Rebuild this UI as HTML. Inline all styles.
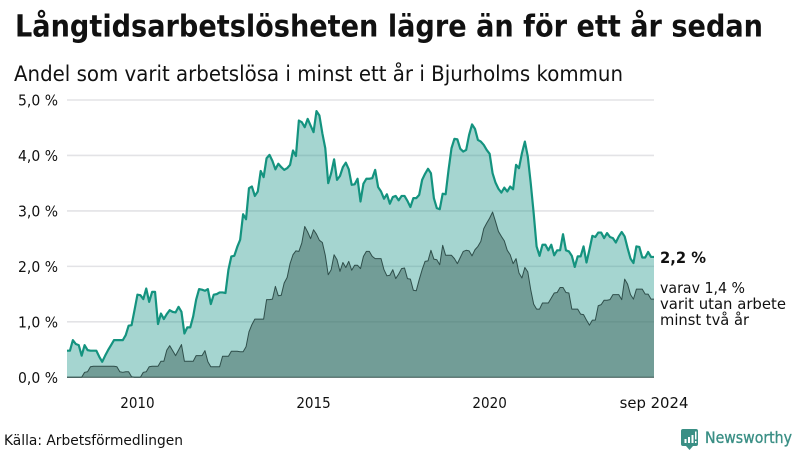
<!DOCTYPE html>
<html lang="sv">
<head>
<meta charset="utf-8">
<title>Långtidsarbetslösheten lägre än för ett år sedan</title>
<style>
html,body{margin:0;padding:0;background:#fff;width:800px;height:450px;overflow:hidden}
svg{display:block}
text{font-family:"DejaVu Sans","Liberation Sans",sans-serif;fill:#111}
</style>
</head>
<body>
<svg id="chart" width="800" height="450" viewBox="0 0 800 450" xmlns="http://www.w3.org/2000/svg">
  <text x="15" y="36.5" font-size="30" font-weight="700" textLength="748" lengthAdjust="spacingAndGlyphs">Långtidsarbetslösheten lägre än för ett år sedan</text>
  <text x="14" y="81" font-size="21" textLength="609" lengthAdjust="spacingAndGlyphs">Andel som varit arbetslösa i minst ett år i Bjurholms kommun</text>
  <g id="grid"></g>
  <g id="yticks"></g>
  <g id="xticks"></g>
  <path id="areaTotal" fill="#189386" fill-opacity="0.39" stroke="none"></path>
  <path id="areaTwoYear" fill="#3f655e" fill-opacity="0.5" stroke="none"></path>
  <line id="baseline" stroke="#34514d" stroke-width="1"></line>
  <path id="lineTotal" fill="none" stroke="#14937f" stroke-width="2.2" stroke-linejoin="round"></path>
  <path id="lineTwoYear" fill="none" stroke="#2f4f4b" stroke-width="1" stroke-linejoin="round"></path>
  <text x="660" y="263" font-size="16" font-weight="700" textLength="46" lengthAdjust="spacingAndGlyphs">2,2 %</text>
  <text x="660" y="293" font-size="15" textLength="85" lengthAdjust="spacingAndGlyphs">varav 1,4 %</text>
  <text x="660" y="309" font-size="15" textLength="126" lengthAdjust="spacingAndGlyphs">varit utan arbete</text>
  <text x="660" y="325" font-size="15" textLength="89" lengthAdjust="spacingAndGlyphs">minst två år</text>
  <text x="4" y="445" font-size="14.5" textLength="179" lengthAdjust="spacingAndGlyphs">Källa: Arbetsförmedlingen</text>
  <g>
    <path fill="#3a8f85" d="M683 429h13a2 2 0 0 1 2 2v13a2 2 0 0 1-2 2h-3l-3.500 4l-3.500-4h-3a2 2 0 0 1-2-2v-13a2 2 0 0 1 2-2z"></path>
    <path fill="#fff" d="M684.500 439h2v4h-2zM688 437h2v6h-2zM691.500 435h2v8h-2zM695 431.500h1.500v8h-1.500zM695 441h1.500v2h-1.500z"></path>
    <text x="705" y="443" font-size="16" textLength="87" lengthAdjust="spacingAndGlyphs" stroke="#3a8f85" stroke-width="0.35" style="fill:#3a8f85">Newsworthy</text>
  </g>
</svg>
<script>
const totalValues = [0.48,0.48,0.67,0.6,0.58,0.39,0.58,0.49,0.48,0.48,0.48,0.37,0.28,0.39,0.49,0.58,0.67,0.67,0.67,0.67,0.76,0.93,0.94,1.21,1.49,1.48,1.41,1.6,1.36,1.54,1.54,0.96,1.15,1.05,1.14,1.21,1.18,1.17,1.27,1.18,0.79,0.9,0.9,1.1,1.4,1.59,1.58,1.56,1.59,1.32,1.49,1.5,1.53,1.53,1.52,1.94,2.18,2.19,2.35,2.48,2.94,2.85,3.41,3.44,3.27,3.35,3.72,3.61,3.95,4.01,3.9,3.75,3.85,3.79,3.74,3.77,3.83,4.09,3.99,4.63,4.6,4.51,4.66,4.54,4.42,4.8,4.72,4.4,4.13,3.5,3.68,3.93,3.56,3.63,3.79,3.87,3.75,3.47,3.48,3.58,3.17,3.49,3.58,3.58,3.59,3.74,3.43,3.35,3.22,3.3,3.13,3.25,3.27,3.19,3.27,3.27,3.18,3.07,3.23,3.23,3.29,3.56,3.67,3.76,3.68,3.23,3.05,3.03,3.31,3.3,3.74,4.13,4.3,4.29,4.12,4.07,4.1,4.37,4.56,4.48,4.28,4.25,4.19,4.1,4.03,3.68,3.51,3.4,3.33,3.42,3.35,3.44,3.39,3.83,3.77,4.04,4.25,3.98,3.5,2.96,2.36,2.19,2.39,2.39,2.29,2.39,2.2,2.29,2.29,2.58,2.29,2.27,2.19,1.99,2.18,2.18,2.36,2.07,2.3,2.55,2.53,2.61,2.61,2.51,2.6,2.53,2.51,2.43,2.54,2.62,2.54,2.33,2.14,2.06,2.36,2.35,2.16,2.16,2.26,2.17,2.17];
const twoYearValues = [0,0,0,0,0,0,0.09,0.1,0.19,0.2,0.2,0.2,0.2,0.2,0.2,0.2,0.2,0.19,0.1,0.09,0.1,0.1,0.01,0,0,0,0.09,0.1,0.19,0.2,0.2,0.2,0.29,0.29,0.49,0.57,0.48,0.39,0.49,0.59,0.29,0.29,0.29,0.29,0.39,0.39,0.39,0.48,0.28,0.19,0.19,0.19,0.19,0.38,0.38,0.38,0.47,0.47,0.47,0.46,0.46,0.55,0.82,0.95,1.05,1.05,1.05,1.05,1.4,1.4,1.41,1.64,1.47,1.48,1.7,1.8,2.05,2.21,2.28,2.27,2.42,2.72,2.62,2.5,2.66,2.58,2.47,2.43,2.2,1.85,1.94,2.21,2.12,1.91,2.07,1.98,2.09,1.93,2.02,2.02,1.96,2.18,2.27,2.27,2.18,2.14,2.14,2.14,1.94,1.83,1.84,1.94,1.78,1.86,1.96,1.97,1.78,1.77,1.57,1.56,1.76,1.94,2.09,2.1,2.29,2.13,2.12,2.03,2.38,2.2,2.2,2.2,2.14,2.05,2.16,2.27,2.29,2.28,2.19,2.3,2.36,2.45,2.68,2.78,2.87,2.98,2.81,2.63,2.54,2.46,2.29,2.21,2.05,2.14,1.88,1.79,1.98,1.9,1.58,1.32,1.23,1.23,1.34,1.34,1.34,1.43,1.52,1.53,1.62,1.62,1.53,1.52,1.23,1.23,1.23,1.14,1.13,1.03,0.94,1.03,1.03,1.29,1.31,1.39,1.39,1.4,1.49,1.49,1.49,1.4,1.77,1.68,1.49,1.41,1.59,1.59,1.59,1.5,1.5,1.41,1.41];
const yTickValues = [0,1,2,3,4,5];
const yTickLabels = ["0,0 %","1,0 %","2,0 %","3,0 %","4,0 %","5,0 %"];
const xTickYears = [2010,2015,2020,2024.667];
const xTickLabels = ["2010","2015","2020","sep 2024"];
const startYear = 2008;
const endYear = 2024.667;

const SVG_NS = "http://www.w3.org/2000/svg";
const plotLeft = 67, plotRight = 654, plotTop = 100, plotBottom = 377.3, yMax = 5;
function xYear(year){ return plotLeft + (year - startYear) / (endYear - startYear) * (plotRight - plotLeft); }
function xIndex(i, n){ return plotLeft + i / (n - 1) * (plotRight - plotLeft); }
function yValue(v){ return plotBottom - v / yMax * (plotBottom - plotTop); }
function linePath(values){
  return values.map(function(v, i){ return (i ? "L" : "M") + xIndex(i, values.length).toFixed(2) + " " + yValue(v).toFixed(2); }).join("");
}
function areaPath(values){
  return linePath(values) + "L" + plotRight + " " + plotBottom + "L" + plotLeft + " " + plotBottom + "Z";
}
document.getElementById("areaTotal").setAttribute("d", areaPath(totalValues));
document.getElementById("areaTwoYear").setAttribute("d", areaPath(twoYearValues));
document.getElementById("lineTotal").setAttribute("d", linePath(totalValues));
document.getElementById("lineTwoYear").setAttribute("d", linePath(twoYearValues));
const base = document.getElementById("baseline");
base.setAttribute("x1", plotLeft);
base.setAttribute("x2", plotRight);
base.setAttribute("y1", plotBottom);
base.setAttribute("y2", plotBottom);

const gridGroup = document.getElementById("grid");
const yGroup = document.getElementById("yticks");
yTickValues.forEach(function(v, i){
  if (v > 0) {
    const ln = document.createElementNS(SVG_NS, "line");
    
    
    ln.setAttribute("x1", plotLeft);
    ln.setAttribute("x2", plotRight);
    ln.setAttribute("y1", yValue(v));
    ln.setAttribute("y2", yValue(v));
    ln.setAttribute("stroke", "#e3e3e6");
    ln.setAttribute("stroke-width", "1.6");
    gridGroup.appendChild(ln);
  }
  const t = document.createElementNS(SVG_NS, "text");
  
  
  t.setAttribute("x", 18);
  t.setAttribute("y", yValue(v) + 5.600);
  t.setAttribute("font-size", "15");
  t.setAttribute("textLength", "40");
  t.setAttribute("lengthAdjust", "spacingAndGlyphs");
  t.textContent = yTickLabels[i];
  yGroup.appendChild(t);
});
const xGroup = document.getElementById("xticks");
xTickYears.forEach(function(yr, i){
  const t = document.createElementNS(SVG_NS, "text");
  
  
  const w = xTickLabels[i].length * 8.6;
  t.setAttribute("x", xYear(yr) - w / 2);
  t.setAttribute("y", 408);
  t.setAttribute("font-size", "15");
  t.setAttribute("textLength", w);
  t.setAttribute("lengthAdjust", "spacingAndGlyphs");
  t.textContent = xTickLabels[i];
  xGroup.appendChild(t);
});
</script>
</body>
</html>
